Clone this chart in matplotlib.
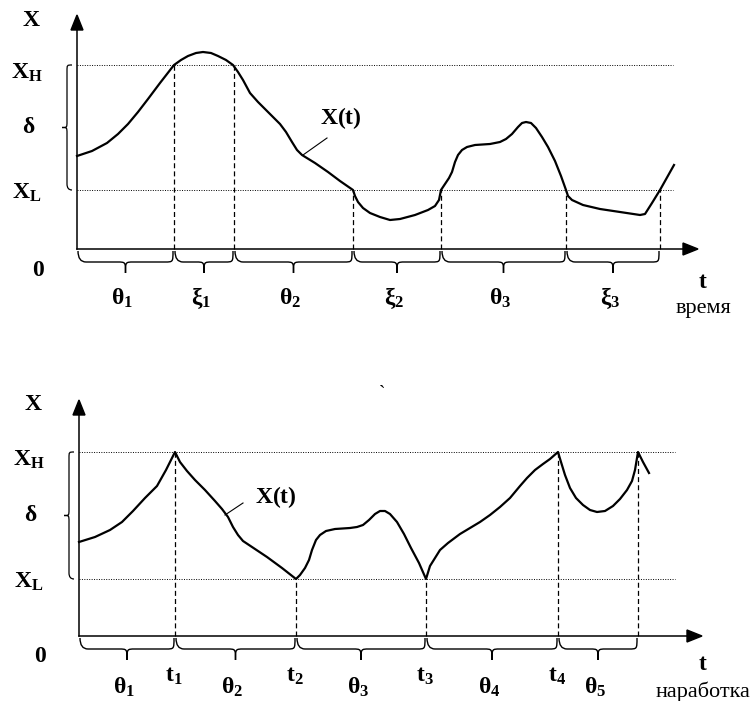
import numpy as np
import matplotlib.pyplot as plt
from matplotlib.path import Path
from matplotlib.patches import PathPatch, Polygon

plt.rcParams['font.family'] = ['Liberation Serif', 'DejaVu Serif']
plt.rcParams['mathtext.fontset'] = 'custom'
plt.rcParams['mathtext.rm'] = 'Liberation Serif:bold'
plt.rcParams['mathtext.it'] = 'Liberation Serif:bold'
plt.rcParams['mathtext.bf'] = 'Liberation Serif:bold'

# ---- top panel: time axis, X(t) crossing X_L / X_H (units ~ pixels from origin)
TOP_XH = 184
TOP_XL = 59
top_px = [77, 92, 107, 118, 128, 138, 148, 160, 167, 174, 181, 188, 196, 203, 211, 218, 226,
          233, 238, 243, 250, 258, 265, 273, 280, 286, 292, 297, 302, 315, 328, 340, 353,
          355, 358, 363, 370, 380, 390, 400, 415, 428, 435, 439, 441,
          445, 449, 452, 455, 458, 462, 467, 475, 490, 500, 506, 512, 518, 522, 526, 531, 536,
          542, 548, 555, 561, 566, 568, 572, 583, 600, 620, 640, 645, 652, 660, 674]
top_py = [156, 151, 143, 134, 124, 112, 99, 83, 74, 65, 60, 56, 53, 52, 53, 56, 60,
          65, 72, 80, 93, 102, 109, 117, 124, 132, 142, 150, 155, 163, 172, 181, 190,
          196, 202, 208, 213, 217, 220, 219, 215, 210, 206, 200, 190,
          184, 178, 172, 162, 155, 150, 147, 145, 144, 142, 139, 134, 127, 123, 122, 123, 128,
          137, 147, 161, 176, 190, 196, 200, 205, 209, 212, 215, 214, 203, 190, 165]
TOP_T = [p - 77 for p in top_px]
TOP_X = [249 - p for p in top_py]
TOP_EVENTS = [97, 157, 276, 364, 489, 583]           # crossings
TOP_EVENT_LEVEL = [TOP_XH, TOP_XH, TOP_XL, TOP_XL, TOP_XL, TOP_XL]
TOP_LABELS = [r'$\mathbf{\theta_1}$', r'$\mathbf{\xi_1}$', r'$\mathbf{\theta_2}$',
              r'$\mathbf{\xi_2}$', r'$\mathbf{\theta_3}$', r'$\mathbf{\xi_3}$']

# ---- bottom panel: operating time, renewal at each crossing
BOT_XH = 184
BOT_XL = 57
bot_px = [79, 95, 110, 122, 133, 145, 157, 166, 175,
          180, 187, 195, 205, 215, 222, 228, 233, 238, 243, 255, 267, 282, 296,
          300, 305, 309, 312, 316, 320, 326, 335, 350, 357, 363, 369, 375, 380, 385, 390, 397,
          404, 411, 419, 426,
          430, 435, 440, 448, 460, 470, 480, 490, 500, 510, 520, 527, 535, 543, 550, 558,
          561, 565, 570, 576, 583, 590, 597, 605, 613, 620, 627, 632, 635, 638, 643, 649]
bot_py = [542, 537, 530, 522, 511, 498, 486, 470, 452,
          462, 471, 480, 490, 501, 509, 517, 527, 535, 541, 549, 557, 568, 579,
          575, 568, 560, 550, 540, 535, 531, 529, 528, 527, 525, 520, 514, 511, 511, 514, 522,
          534, 548, 563, 579,
          566, 558, 550, 543, 534, 528, 522, 515, 507, 498, 486, 478, 470, 464, 459, 452,
          462, 475, 488, 498, 505, 510, 512, 511, 506, 499, 490, 481, 470, 452, 462, 473]
BOT_T = [p - 79 for p in bot_px]
BOT_X = [636 - p for p in bot_py]
BOT_EVENTS = [96, 217, 347, 479, 559]
BOT_EVENT_LEVEL = [BOT_XH, BOT_XL, BOT_XL, BOT_XH, BOT_XH]
BOT_LABELS = [r'$\mathbf{\theta_1}$', r'$\mathbf{\theta_2}$', r'$\mathbf{\theta_3}$',
              r'$\mathbf{\theta_4}$', r'$\mathbf{\theta_5}$']
BOT_TICKS = [r'$\mathbf{t_1}$', r'$\mathbf{t_2}$', r'$\mathbf{t_3}$', r'$\mathbf{t_4}$']

W, H = 754, 701
FS = 17
fig = plt.figure(figsize=(W / 100, H / 100), dpi=100)


def make_axes(x0, y0):
    ax = fig.add_axes([0, 0, 1, 1])
    ax.set_xlim(-x0, W - x0)
    ax.set_ylim(y0 - H, y0)
    ax.axis('off')
    ax.patch.set_alpha(0)
    return ax


def hbrace(ax, a, b, y, h, lw=1.0):
    m = (a + b) / 2
    r = min(8, (b - a) / 4)
    verts = [(a, y), (a, y - h / 2), (a + r, y - h / 2),
             (m - r, y - h / 2),
             (m, y - h / 2), (m, y - h / 2), (m, y - h),
             (m, y - h / 2), (m, y - h / 2), (m + r, y - h / 2),
             (b - r, y - h / 2),
             (b, y - h / 2), (b, y - h / 2), (b, y)]
    codes = [Path.MOVETO, Path.CURVE3, Path.CURVE3, Path.LINETO,
             Path.CURVE4, Path.CURVE4, Path.CURVE4,
             Path.CURVE4, Path.CURVE4, Path.CURVE4, Path.LINETO,
             Path.CURVE4, Path.CURVE4, Path.CURVE4]
    ax.add_patch(PathPatch(Path(verts, codes), fill=False, lw=lw, color='black'))


def vbrace(ax, a, b, x, w, lw=0.9):
    m = (a + b) / 2
    r = 6
    verts = [(x, a), (x - w / 2, a), (x - w / 2, a + r),
             (x - w / 2, m - r),
             (x - w / 2, m), (x - w / 2, m), (x - w, m),
             (x - w / 2, m), (x - w / 2, m), (x - w / 2, m + r),
             (x - w / 2, b - r),
             (x - w / 2, b), (x - w / 2, b), (x, b)]
    codes = [Path.MOVETO, Path.CURVE3, Path.CURVE3, Path.LINETO,
             Path.CURVE4, Path.CURVE4, Path.CURVE4,
             Path.CURVE4, Path.CURVE4, Path.CURVE4, Path.LINETO,
             Path.CURVE4, Path.CURVE4, Path.CURVE4]
    ax.add_patch(PathPatch(Path(verts, codes), fill=False, lw=lw, color='black'))


def frame(ax, ytop, xright, xdot, xh, xl):
    ax.plot([0, 0], [0, ytop - 14], color='black', lw=1.1)
    ax.plot([0, xright - 14], [0, 0], color='black', lw=1.1)
    ax.add_patch(Polygon([(-6, ytop - 15), (6, ytop - 15), (0, ytop)], color='black'))
    ax.add_patch(Polygon([(xright - 15, 6), (xright - 15, -6), (xright, 0)], color='black'))
    for lev in (xh, xl):
        ax.plot([0, xdot], [lev, lev], color='black', lw=0.7, ls=(0, (1, 1.5)))
    vbrace(ax, xl, xh, -5, 10)
    kw = dict(fontsize=FS, ha='center', va='center')
    ax.text(-46, ytop - 5, r'$\mathbf{X}$', **kw)
    ax.text(-50, xh - 8, r'$\mathbf{X_H}$', **kw)
    ax.text(-48, (xh + xl) / 2, r'$\mathbf{\delta}$', **kw)
    ax.text(-50, xl - 3, r'$\mathbf{X_L}$', **kw)
    ax.text(-39, -21, r'$\mathbf{0}$', **kw)


# ---- top
ax1 = make_axes(77, 249)
frame(ax1, 234, 621, 596, TOP_XH, TOP_XL)
ax1.plot(TOP_T, TOP_X, color='black', lw=1.6, solid_joinstyle='round')
for t, lev in zip(TOP_EVENTS, TOP_EVENT_LEVEL):
    ax1.plot([t, t], [0, lev], color='black', lw=0.9, ls=(0, (4, 2.5)))
bounds = [0] + TOP_EVENTS
for i, lab in enumerate(TOP_LABELS):
    hbrace(ax1, bounds[i] + 1, bounds[i + 1] - 1, -2, 22)
    ax1.text((bounds[i] + bounds[i + 1]) / 2 - 3, -49, lab, fontsize=FS, ha='center', va='center')
ax1.text(264, 131, r'$\mathbf{X(t)}$', fontsize=FS, ha='center', va='center')
ax1.plot([250, 226], [111, 94], color='black', lw=0.8)
ax1.text(626, -33, r'$\mathbf{t}$', fontsize=FS, ha='center', va='center')
ax1.text(626, -59, 'время', fontsize=16, ha='center', va='center')

# ---- bottom
ax2 = make_axes(79, 636)
frame(ax2, 236, 623, 596, BOT_XH, BOT_XL)
ax2.plot(BOT_T, BOT_X, color='black', lw=1.6, solid_joinstyle='round')
for t, lev in zip(BOT_EVENTS, BOT_EVENT_LEVEL):
    ax2.plot([t, t], [0, lev], color='black', lw=0.9, ls=(0, (4, 2.5)))
bounds = [0] + BOT_EVENTS
for i, lab in enumerate(BOT_LABELS):
    hbrace(ax2, bounds[i] + 1, bounds[i + 1] - 1, -2, 22)
    ax2.text((bounds[i] + bounds[i + 1]) / 2 - 3, -51, lab, fontsize=FS, ha='center', va='center')
for t, lab in zip(BOT_EVENTS, BOT_TICKS):
    ax2.text(t - 1, -40, lab, fontsize=FS, ha='center', va='center')
ax2.text(197, 139, r'$\mathbf{X(t)}$', fontsize=FS, ha='center', va='center')
ax2.plot([164, 146], [133, 121], color='black', lw=0.8)
ax2.text(624, -29, r'$\mathbf{t}$', fontsize=FS, ha='center', va='center')
ax2.text(671, -56, 'наработка', fontsize=16, ha='right', va='center')
ax2.text(303, 243, '`', fontsize=14, ha='center', va='center')

fig.savefig('out.png', dpi=100)
